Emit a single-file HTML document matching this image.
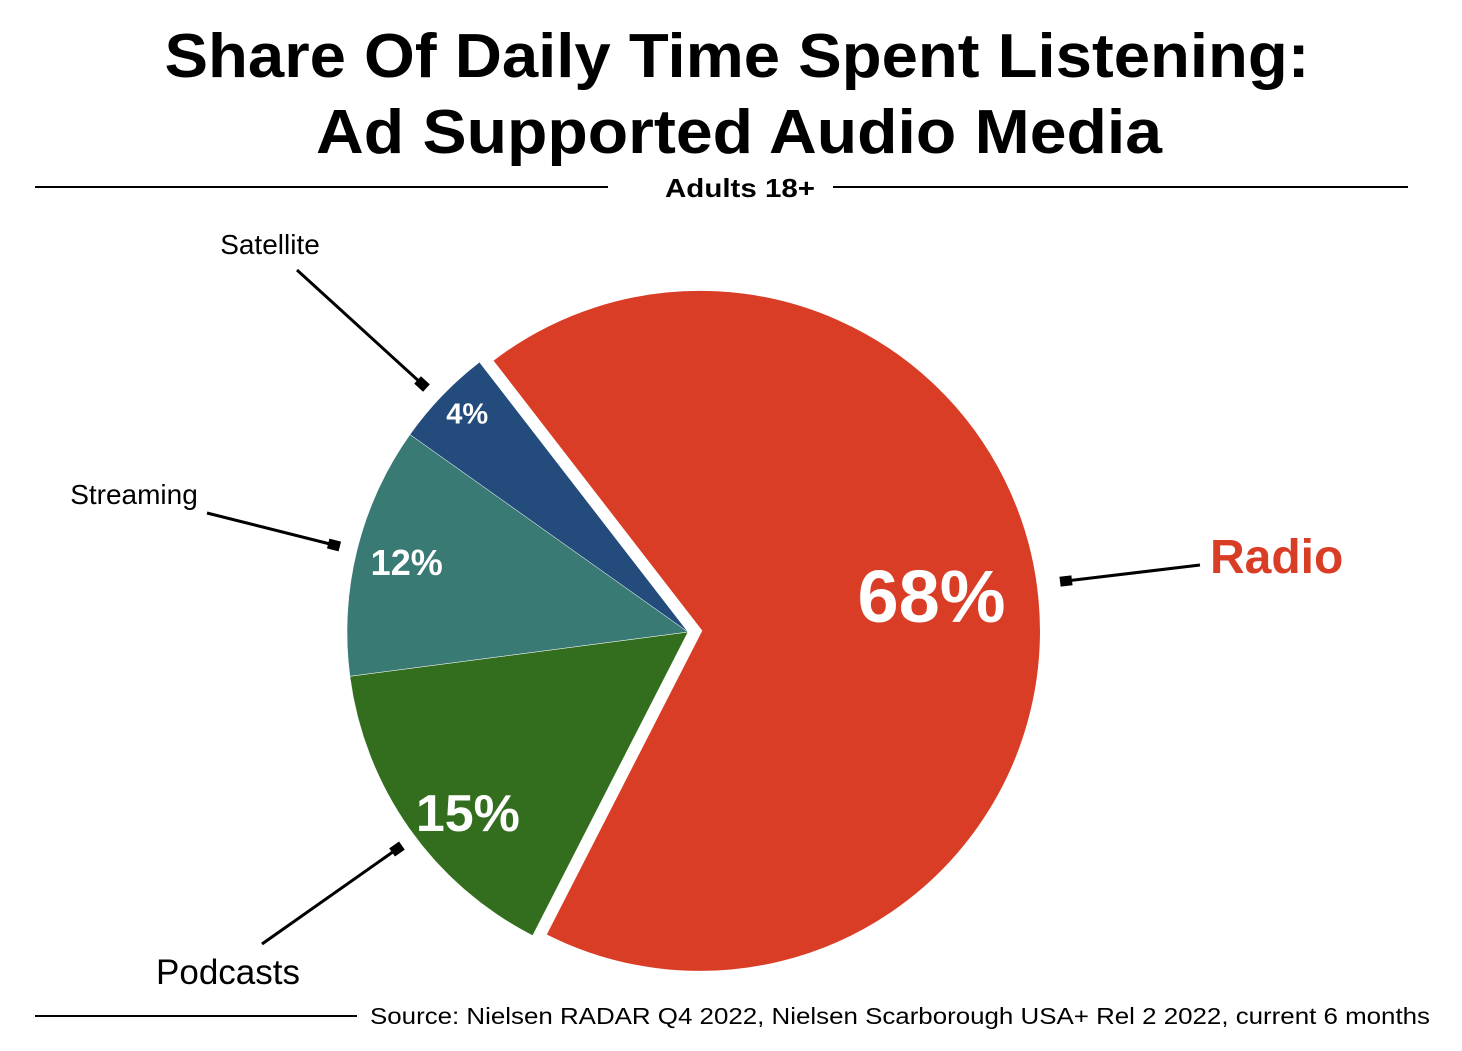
<!DOCTYPE html>
<html><head><meta charset="utf-8"><style>
body{margin:0;background:#fff;width:1462px;height:1046px;overflow:hidden;font-family:"Liberation Sans",Arial,sans-serif}
</style></head><body>
<svg id="chart" width="1462" height="1046">
<text x="737" y="77" text-anchor="middle" font-size="62" font-weight="bold" textLength="1145" lengthAdjust="spacingAndGlyphs">Share Of Daily Time Spent Listening:</text>
<text x="739" y="153" text-anchor="middle" font-size="62" font-weight="bold" textLength="846" lengthAdjust="spacingAndGlyphs">Ad Supported Audio Media</text>
<line x1="35" y1="187" x2="608" y2="187" stroke="#000" stroke-width="2"/>
<line x1="833" y1="187" x2="1408" y2="187" stroke="#000" stroke-width="2"/>
<text x="740" y="197" text-anchor="middle" font-size="26" font-weight="bold" textLength="150" lengthAdjust="spacingAndGlyphs">Adults 18+</text>
<g id="slices"></g>
<g id="labels"></g>
<line x1="35" y1="1016" x2="357" y2="1016" stroke="#000" stroke-width="2"/>
<text x="370" y="1024" font-size="23" textLength="1060" lengthAdjust="spacingAndGlyphs">Source: Nielsen RADAR Q4 2022, Nielsen Scarborough USA+ Rel 2 2022, current 6 months</text>
</svg>
<script>
const categories=["Radio","Podcasts","Streaming","Satellite"];
const values=[68,15.4,11.9,4.7];
const valueLabels=["68%","15%","12%","4%"];
const colors=["#d93d25","#336e1e","#3a7a74","#234b7c"];
const NS="http://www.w3.org/2000/svg";
const cx=688,cy=632,r=341,startDeg=322.3;
const total=values.reduce((a,b)=>a+b,0);
const labelSizes=[74,52,36,29];
const labelR=[0.68,0.84,0.85,0.91];
const labelShiftX=[0,14,0,3];
const labelShiftY=[-14,15,0,-4];
const sliceG=document.getElementById('slices'),labG=document.getElementById('labels');
function pt(x,y,deg,rad){const a=deg*Math.PI/180;return [x+rad*Math.sin(a),y-rad*Math.cos(a)];}
let a0=startDeg;
values.forEach((v,i)=>{
  const span=v/total*360,a1=a0+span,mid=a0+span/2;
  let ox=cx,oy=cy,rr=r;
  if(i===0){[ox,oy]=pt(cx,cy,mid,12);rr=342;}
  const p0=pt(ox,oy,a0,rr),p1=pt(ox,oy,a1,rr);
  const path=document.createElementNS(NS,'path');
  path.setAttribute('d',`M${ox},${oy}L${p0[0]},${p0[1]}A${rr},${rr} 0 ${span>180?1:0} 1 ${p1[0]},${p1[1]}Z`);
  path.setAttribute('fill',colors[i]);
  path.setAttribute('stroke','#fff');
  path.setAttribute('stroke-width',i===0?4:0.5);
  
  
  sliceG.appendChild(path);
  const lp=pt(ox,oy,mid,rr*labelR[i]);
  const t=document.createElementNS(NS,'text');
  t.setAttribute('x',lp[0]+labelShiftX[i]);t.setAttribute('y',lp[1]+labelSizes[i]*0.36+labelShiftY[i]);
  t.setAttribute('text-anchor','middle');t.setAttribute('font-size',labelSizes[i]);
  t.setAttribute('font-weight','bold');t.setAttribute('fill','#fff');
  t.textContent=valueLabels[i];
  
  
  labG.appendChild(t);
  a0=a1;
});
const callouts=[
 {n:"radio",x1:1200,y1:565,x2:1066,y2:581,tx:1210,ty:573,fs:48,fw:"bold",fill:"#d93d25",anchor:"start"},
 {n:"podcasts",x1:262,y1:944,x2:397,y2:849,tx:228,ty:984,fs:35,fw:"normal",fill:"#000",anchor:"middle"},
 {n:"streaming",x1:207,y1:513,x2:334,y2:545,tx:134,ty:504,fs:28,fw:"normal",fill:"#000",anchor:"middle"},
 {n:"satellite",x1:297,y1:270,x2:422,y2:384,tx:270,ty:254,fs:28,fw:"normal",fill:"#000",anchor:"middle"}];
const names=["Radio","Podcasts","Streaming","Satellite"];
callouts.forEach((c,i)=>{
  const l=document.createElementNS(NS,'line');
  l.setAttribute('x1',c.x1);l.setAttribute('y1',c.y1);l.setAttribute('x2',c.x2);l.setAttribute('y2',c.y2);
  l.setAttribute('stroke','#000');l.setAttribute('stroke-width',3);
  
  
  labG.appendChild(l);
  const ang=Math.atan2(c.y2-c.y1,c.x2-c.x1)*180/Math.PI;
  const m=document.createElementNS(NS,'rect');
  m.setAttribute('x',c.x2-6);m.setAttribute('y',c.y2-5);m.setAttribute('width',12);m.setAttribute('height',10);
  m.setAttribute('transform',`rotate(${ang} ${c.x2} ${c.y2})`);
  
  
  labG.appendChild(m);
  const t=document.createElementNS(NS,'text');
  t.setAttribute('x',c.tx);t.setAttribute('y',c.ty);t.setAttribute('font-size',c.fs);
  t.setAttribute('font-weight',c.fw);t.setAttribute('fill',c.fill);t.setAttribute('text-anchor',c.anchor);
  t.textContent=names[i];
  
  
  labG.appendChild(t);
});
</script>
</body></html>
